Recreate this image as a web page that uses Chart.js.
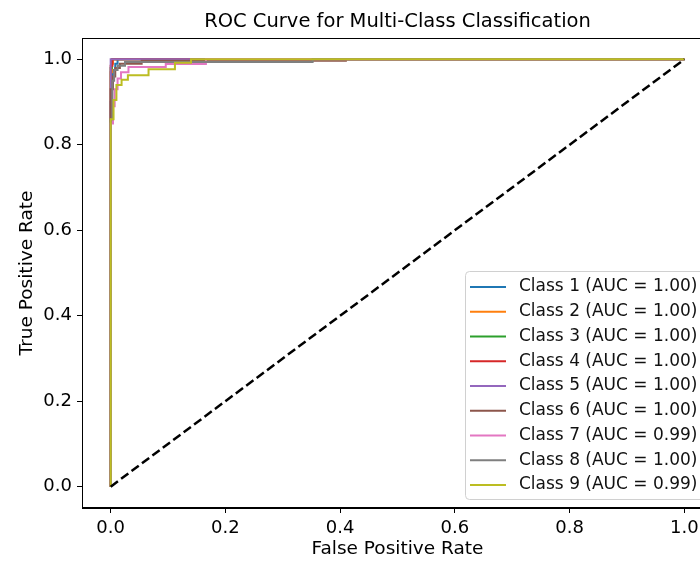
<!DOCTYPE html>
<html>
<head>
<meta charset="utf-8">
<script src="https://cdn.jsdelivr.net/npm/chart.js@4/dist/chart.umd.min.js"></script>
<style>
    html, body { margin: 0; padding: 0; background: #fff; overflow: hidden; }
    #wrap { width: 700px; height: 561px; overflow: hidden; }
</style>
</head>
<body>
<div id="wrap"><canvas id="roc" width="760" height="561"></canvas></div>
<script>
// ROC points (false positive rate / true positive rate)
const classNames = ['Class 1', 'Class 2', 'Class 3', 'Class 4', 'Class 5', 'Class 6', 'Class 7', 'Class 8', 'Class 9'];
const aucValues = [1.00, 1.00, 1.00, 1.00, 1.00, 1.00, 0.99, 1.00, 0.99];

const fpr1 = [0, 0, 0.002, 0.002, 0.004, 0.004, 0.008, 0.008, 0.012, 0.012, 1];
const tpr1 = [0, 0.90, 0.90, 0.95, 0.95, 0.975, 0.975, 0.99, 0.99, 1, 1];
const fpr2 = [0, 0, 0.002, 0.002, 0.004, 0.004, 1];
const tpr2 = [0, 0.97, 0.97, 0.99, 0.99, 1, 1];
const fpr3 = [0, 0, 0.002, 0.002, 1];
const tpr3 = [0, 0.98, 0.98, 1, 1];
const fpr4 = [0, 0, 0.003, 0.003, 1];
const tpr4 = [0, 0.985, 0.985, 1, 1];
const fpr5 = [0, 0, 1];
const tpr5 = [0, 1, 1];
const fpr6 = [0, 0, 0.004, 0.004, 0.008, 0.008, 0.016, 0.016, 0.054, 0.054, 0.41, 0.41, 1];
const tpr6 = [0, 0.93, 0.93, 0.96, 0.96, 0.98, 0.98, 0.99, 0.99, 0.997, 0.997, 1, 1];
const fpr7 = [0, 0, 0.004, 0.004, 0.007, 0.007, 0.012, 0.012, 0.018, 0.018, 0.031, 0.031, 0.096, 0.096, 0.166, 0.166, 1];
const tpr7 = [0, 0.85, 0.85, 0.89, 0.89, 0.93, 0.93, 0.955, 0.955, 0.97, 0.97, 0.982, 0.982, 0.989, 0.989, 1, 1];
const fpr8 = [0, 0, 0.003, 0.003, 0.006, 0.006, 0.012, 0.012, 0.025, 0.025, 0.352, 0.352, 1];
const tpr8 = [0, 0.86, 0.86, 0.95, 0.95, 0.975, 0.975, 0.985, 0.985, 0.994, 0.994, 1, 1];
const fpr9 = [0, 0, 0.005, 0.005, 0.01, 0.01, 0.019, 0.019, 0.03, 0.03, 0.066, 0.066, 0.112, 0.112, 0.14, 0.14, 1];
const tpr9 = [0, 0.86, 0.86, 0.905, 0.905, 0.94, 0.94, 0.952, 0.952, 0.963, 0.963, 0.977, 0.977, 0.992, 0.992, 1, 1];
const diagFpr = [0, 1];
const diagTpr = [0, 1];

const axisTicks = [0, 0.2, 0.4, 0.6, 0.8, 1.0];

const allFpr = [fpr1, fpr2, fpr3, fpr4, fpr5, fpr6, fpr7, fpr8, fpr9];
const allTpr = [tpr1, tpr2, tpr3, tpr4, tpr5, tpr6, tpr7, tpr8, tpr9];
const colors = ['#1f77b4', '#ff7f0e', '#2ca02c', '#d62728', '#9467bd', '#8c564b', '#e377c2', '#7f7f7f', '#bcbd22'];

function toPoints(xs, ys) {
    return xs.map((x, i) => ({ x: x, y: ys[i] }));
}

const datasets = classNames.map((name, i) => ({
    label: name + ' (AUC = ' + aucValues[i].toFixed(2) + ')',
    data: toPoints(allFpr[i], allTpr[i]),
    borderColor: colors[i],
    backgroundColor: colors[i],
    borderWidth: 2,
    pointRadius: 0,
    tension: 0,
    order: 20 - i   // later classes on top, like matplotlib
}));

datasets.push({
    label: '',
    data: toPoints(diagFpr, diagTpr),
    borderColor: '#000',
    borderWidth: 2.5,
    borderDash: [9, 4],
    pointRadius: 0,
    tension: 0,
    order: 0
});

// Frame (all four spines) and the in-plot legend
const framePlugin = {
    id: 'frame',
    afterDraw(chart) {
        const ctx = chart.ctx;
        const a = chart.chartArea;
        ctx.save();
        ctx.strokeStyle = '#000';
        ctx.lineWidth = 1;
        ctx.strokeRect(a.left + 0.5, a.top + 0.5, a.right - a.left - 1, a.bottom - a.top - 1);

        // legend box, lower right
        const right = a.right - 8;
        const bottom = a.bottom - 9;
        const w = 240, h = 228;
        const left = right - w, top = bottom - h;
        ctx.beginPath();
        ctx.roundRect(left + 0.5, top + 0.5, w, h, 4);
        ctx.fillStyle = 'rgba(255,255,255,0.8)';
        ctx.fill();
        ctx.strokeStyle = '#d0d0d0';
        ctx.lineWidth = 1;
        ctx.stroke();

        ctx.font = '17px "DejaVu Sans"';
        ctx.textBaseline = 'middle';
        ctx.textAlign = 'left';
        chart.data.datasets.forEach((ds, i) => {
            if (!ds.label) return;
            const y = top + 16 + i * 24.75;
            ctx.beginPath();
            ctx.moveTo(left + 5, y);
            ctx.lineTo(left + 41, y);
            ctx.strokeStyle = ds.borderColor;
            ctx.lineWidth = 2;
            ctx.stroke();
            ctx.fillStyle = '#111';
            ctx.fillText(ds.label, left + 54, y);
        });
        ctx.restore();
    }
};

Chart.defaults.font.family = '"DejaVu Sans", sans-serif';
Chart.defaults.color = '#000';

new Chart(document.getElementById('roc'), {
    type: 'line',
    data: { datasets: datasets },
    options: {
        responsive: false,
        animation: false,
        devicePixelRatio: 1,
        layout: { padding: { left: 0, right: 47, top: 0, bottom: 0 } },
        plugins: {
            legend: { display: false },
            tooltip: { enabled: false },
            title: {
                display: true,
                text: 'ROC Curve for Multi-Class Classification',
                fullSize: false,
                color: '#000',
                font: { size: 19.5, weight: 'normal' },
                padding: { top: 10, bottom: 4.6 }
            }
        },
        scales: {
            x: {
                type: 'linear',
                min: -0.05,
                max: 1.05,
                afterBuildTicks: s => { s.ticks = axisTicks.map(v => ({ value: v })); },
                afterFit: s => { s.height = 53; },
                ticks: {
                    font: { size: 18 },
                    color: '#000',
                    padding: 5,
                    maxRotation: 0,
                    callback: v => Number(v).toFixed(1)
                },
                grid: { drawOnChartArea: false, drawTicks: true, tickLength: 5, color: '#000' },
                border: { display: true, color: '#000', width: 1 },
                title: {
                    display: true,
                    text: 'False Positive Rate',
                    font: { size: 18.5 },
                    color: '#000',
                    padding: { top: 0, bottom: 1 }
                }
            },
            y: {
                type: 'linear',
                min: -0.05,
                max: 1.05,
                afterBuildTicks: s => { s.ticks = axisTicks.map(v => ({ value: v })); },
                afterFit: s => { s.width = 82; },
                ticks: {
                    font: { size: 18 },
                    color: '#000',
                    padding: 5,
                    callback: v => Number(v).toFixed(1)
                },
                grid: { drawOnChartArea: false, drawTicks: true, tickLength: 5, color: '#000' },
                border: { display: true, color: '#000', width: 1 },
                title: {
                    display: true,
                    text: 'True Positive Rate',
                    font: { size: 18.5 },
                    color: '#000',
                    padding: { top: 16, bottom: 0 }
                }
            }
        }
    },
    plugins: [framePlugin]
});
</script>
</body>
</html>
